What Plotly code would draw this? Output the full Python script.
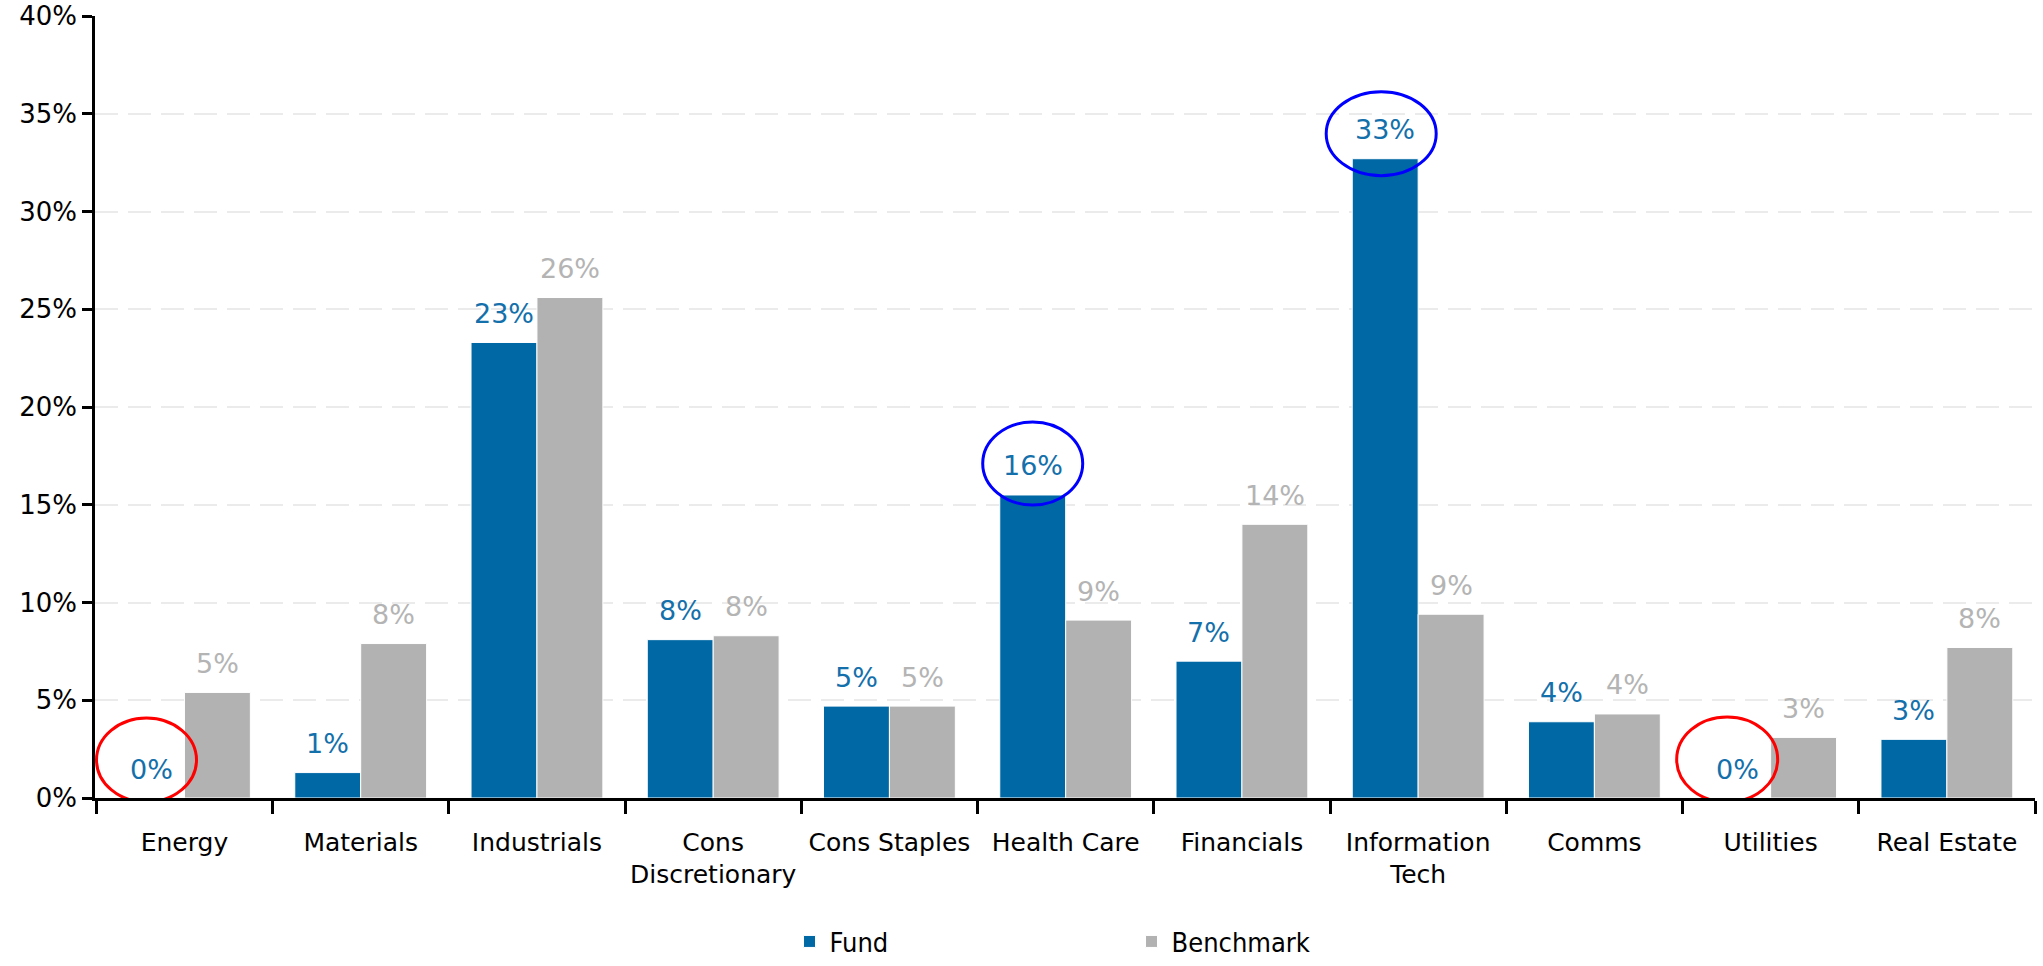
import plotly.graph_objects as go

# Sector weights (%)
sectors = ["Energy", "Materials", "Industrials", "Cons<br>Discretionary", "Cons Staples",
           "Health Care", "Financials", "Information<br>Tech", "Comms", "Utilities", "Real Estate"]
fund = [0.0, 1.3, 23.3, 8.1, 4.7, 15.5, 7.0, 32.7, 3.9, 0.0, 3.0]
benchmark = [5.4, 7.9, 25.6, 8.3, 4.7, 9.1, 14.0, 9.4, 4.3, 3.1, 7.7]
y_ticks = [0, 5, 10, 15, 20, 25, 30, 35, 40]

FUND_COLOR = "#0068A5"
FUND_LABEL = "#1470AB"
BENCH_COLOR = "#B2B2B2"
BENCH_LABEL = "#B4B4B4"
BARGAP = 0.252
HALF = (1 - BARGAP) / 4  # offset of each bar centre from its category centre

fig = go.Figure()
fig.add_trace(go.Bar(name="Fund", x=sectors, y=fund, marker=dict(color=FUND_COLOR, line=dict(color="white", width=1))))
fig.add_trace(go.Bar(name="Benchmark", x=sectors, y=benchmark, marker=dict(color=BENCH_COLOR, line=dict(color="white", width=1))))

# value labels above each bar
annotations = []
for i, (f, b) in enumerate(zip(fund, benchmark)):
    for val, dx, col in ((f, -HALF, FUND_LABEL), (b, HALF, BENCH_LABEL)):
        annotations.append(dict(
            x=i + dx, y=val, xref="x", yref="y", text=f"{val:.0f}%", showarrow=False,
            yshift=29, yanchor="middle", xanchor="center",
            font=dict(family="DejaVu Sans", size=27, color=col)))

# highlight rings around selected fund labels: (category index, colour, x0, x1, y0, y1 in px)
rings = [
    (0, "#FF0000", -55, 45, -4, 80),
    (9, "#FF0000", -61, 40, -4, 81),
    (5, "#0000FF", -50, 50, -10, 73),
    (7, "#0000FF", -59, 51, -17, 67),
]
shapes = []
for idx, col, x0, x1, y0, y1 in rings:
    shapes.append(dict(
        type="circle", xref="x", yref="y", xsizemode="pixel", ysizemode="pixel",
        xanchor=idx - HALF, yanchor=fund[idx], x0=x0, x1=x1, y0=y0, y1=y1,
        line=dict(color=col, width=3), fillcolor="rgba(0,0,0,0)", layer="above"))

fig.update_layout(
    width=2043, height=966,
    margin=dict(l=95, r=8, t=16, b=168, autoexpand=False),
    paper_bgcolor="white", plot_bgcolor="white",
    barmode="group", bargap=BARGAP, bargroupgap=0,
    showlegend=True,
    legend=dict(orientation="h", x=0.358, xanchor="left", y=-0.184, yanchor="middle",
                entrywidth=297, entrywidthmode="pixels", tracegroupgap=0,
                font=dict(family="DejaVu Sans Condensed, DejaVu Sans", size=27, color="black")),
    annotations=annotations,
    shapes=shapes,
)
fig.update_xaxes(
    type="category", showline=True, linecolor="black", linewidth=2.5,
    ticks="outside", tickson="boundaries", ticklen=13, tickwidth=2.5, tickcolor="black",
    ticklabelstandoff=20, tickangle=0, automargin=False,
    tickfont=dict(family="DejaVu Sans", size=25, color="black"),
    showgrid=False,
)
fig.update_yaxes(
    range=[0, 40], tickvals=y_ticks, ticktext=[f"{v}%" for v in y_ticks],
    showline=True, linecolor="black", linewidth=2.5, automargin=False,
    ticks="outside", ticklen=10, tickwidth=2.5, tickcolor="black",
    tickfont=dict(family="DejaVu Sans", size=26, color="black"),
    showgrid=True, gridcolor="#EBEBEB", gridwidth=2, griddash="23px,10px",
    zeroline=False,
)

fig.write_html("out.html")
